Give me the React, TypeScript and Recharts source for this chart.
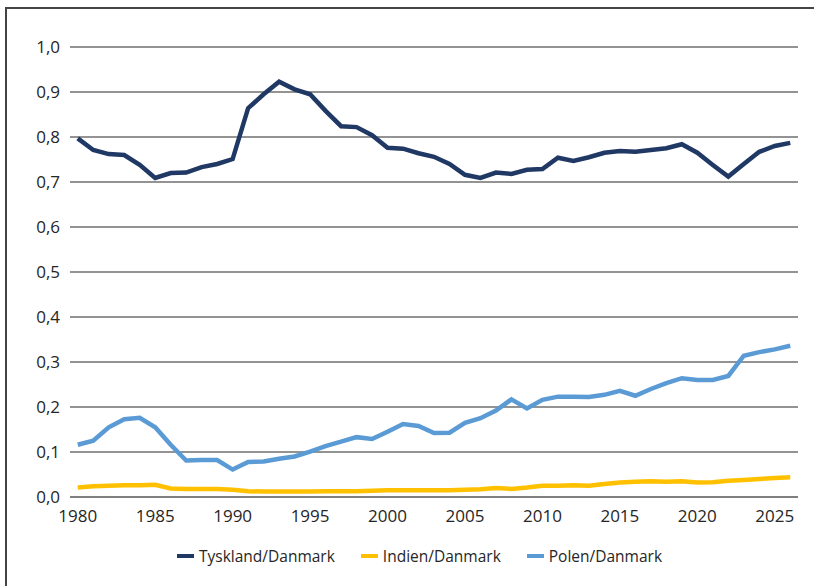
import React from 'react';
import { LineChart, Line, XAxis, YAxis, CartesianGrid } from 'recharts';

const years = [
  1980, 1981, 1982, 1983, 1984, 1985, 1986, 1987, 1988, 1989,
  1990, 1991, 1992, 1993, 1994, 1995, 1996, 1997, 1998, 1999,
  2000, 2001, 2002, 2003, 2004, 2005, 2006, 2007, 2008, 2009,
  2010, 2011, 2012, 2013, 2014, 2015, 2016, 2017, 2018, 2019,
  2020, 2021, 2022, 2023, 2024, 2025, 2026,
];

const tyskland = [
  0.797, 0.771, 0.762, 0.760, 0.738, 0.709, 0.720, 0.721, 0.733, 0.740,
  0.751, 0.864, 0.895, 0.923, 0.906, 0.895, 0.858, 0.824, 0.822, 0.804,
  0.776, 0.774, 0.764, 0.756, 0.740, 0.716, 0.709, 0.721, 0.718, 0.727,
  0.729, 0.754, 0.747, 0.755, 0.765, 0.769, 0.767, 0.771, 0.775, 0.784,
  0.765, 0.738, 0.712, 0.740, 0.767, 0.780, 0.787,
];

const indien = [
  0.021, 0.024, 0.025, 0.026, 0.026, 0.027, 0.019, 0.018, 0.018, 0.018,
  0.016, 0.013, 0.012, 0.012, 0.012, 0.012, 0.013, 0.013, 0.013, 0.014,
  0.015, 0.015, 0.015, 0.015, 0.015, 0.016, 0.017, 0.020, 0.018, 0.021,
  0.025, 0.025, 0.026, 0.025, 0.029, 0.032, 0.034, 0.035, 0.034, 0.035,
  0.032, 0.033, 0.036, 0.038, 0.040, 0.042, 0.044,
];

const polen = [
  0.116, 0.125, 0.155, 0.173, 0.176, 0.155, 0.116, 0.081, 0.082, 0.082,
  0.061, 0.078, 0.079, 0.085, 0.090, 0.101, 0.113, 0.123, 0.133, 0.129,
  0.145, 0.162, 0.158, 0.142, 0.143, 0.165, 0.175, 0.192, 0.217, 0.197,
  0.216, 0.223, 0.223, 0.222, 0.227, 0.236, 0.225, 0.240, 0.253, 0.264,
  0.260, 0.260, 0.269, 0.314, 0.322, 0.328, 0.336,
];

const xTicks = [1980, 1985, 1990, 1995, 2000, 2005, 2010, 2015, 2020, 2025];
const yTicks = [0, 0.1, 0.2, 0.3, 0.4, 0.5, 0.6, 0.7, 0.8, 0.9, 1.0];

const series = [
  { key: 'tyskland', name: 'Tyskland/Danmark', color: '#203864' },
  { key: 'indien', name: 'Indien/Danmark', color: '#FFC000' },
  { key: 'polen', name: 'Polen/Danmark', color: '#5B9BD5' },
];

const data = years.map((year, i) => ({
  year,
  tyskland: tyskland[i],
  indien: indien[i],
  polen: polen[i],
}));

const tickStyle = { fontFamily: 'Open Sans', fontSize: 17, fill: '#262626' };

const App = () => {
  return (
    <div style={{ position: 'absolute', left: 0, top: 0, width: 814, height: 586, background: '#fff', overflow: 'hidden' }}>
      {/* frame, only top and left edges show */}
      <div
        style={{
          position: 'absolute',
          left: 5,
          top: 7,
          width: 900,
          height: 700,
          borderTop: '2px solid #444',
          borderLeft: '2px solid #444',
        }}
      />
      <div style={{ position: 'absolute', left: 0, top: 0 }}>
        <LineChart width={814} height={586} data={data} margin={{ top: 47, right: 16, bottom: 59, left: 0 }}>
          <CartesianGrid vertical={false} stroke="#6F6F6F" strokeWidth={1.5} />
          <XAxis
            dataKey="year"
            type="number"
            domain={[1979.5, 2026.5]}
            ticks={xTicks}
            tickLine={false}
            axisLine={{ stroke: '#7F7F7F', strokeWidth: 2 }}
            tick={tickStyle}
            tickMargin={7}
            height={30}
            interval={0}
          />
          <YAxis
            domain={[0, 1]}
            ticks={yTicks}
            tickLine={false}
            axisLine={false}
            tick={tickStyle}
            tickMargin={4}
            width={70}
            interval={0}
            tickFormatter={(v: number) => v.toFixed(1).replace('.', ',')}
          />
          {series.map((s) => (
            <Line
              key={s.key}
              dataKey={s.key}
              name={s.name}
              stroke={s.color}
              strokeWidth={4.5}
              dot={false}
              activeDot={false}
              isAnimationActive={false}
            />
          ))}
        </LineChart>
      </div>
      {/* legend */}
      <div
        style={{
          position: 'absolute',
          left: 177,
          top: 545,
          display: 'flex',
          gap: 26,
          fontFamily: 'Open Sans',
          fontSize: 15.5,
          color: '#262626',
          lineHeight: '22px',
        }}
      >
        {series.map((s) => (
          <div key={s.key} style={{ display: 'flex', alignItems: 'center' }}>
            <span style={{ display: 'inline-block', width: 17, height: 4, background: s.color, marginRight: 5 }} />
            <span>{s.name}</span>
          </div>
        ))}
      </div>
    </div>
  );
};

export default App;
